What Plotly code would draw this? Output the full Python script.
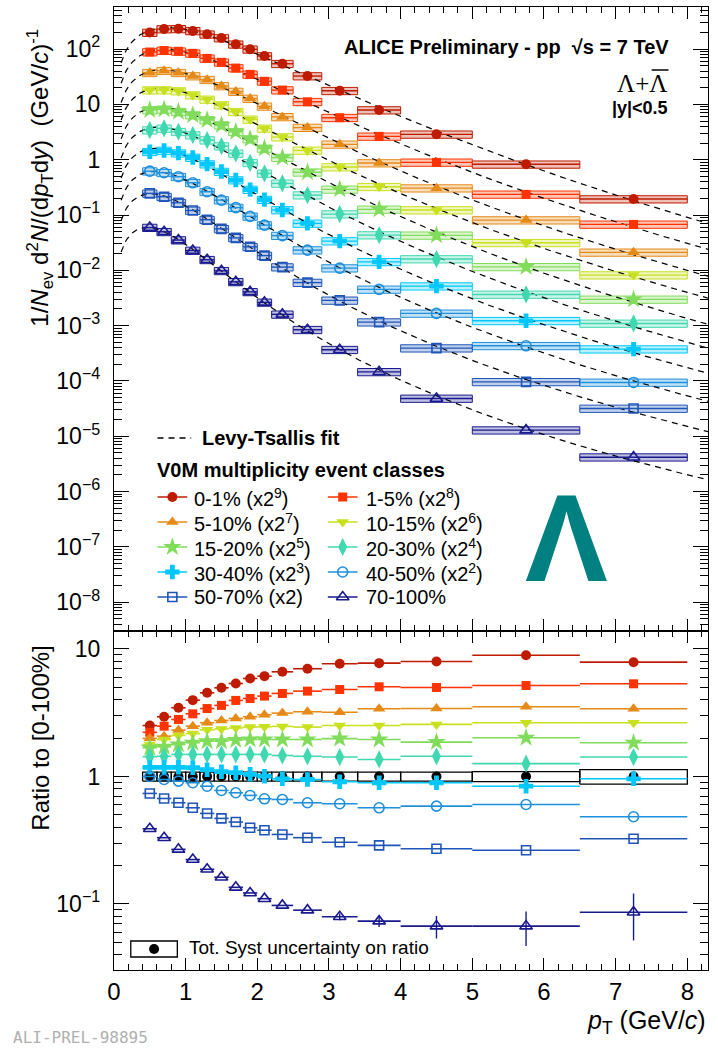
import numpy as np
import plotly.graph_objects as go

W, H = 718, 1050

# pT binning (GeV/c)
pt_low = [0.4, 0.6, 0.8, 1.0, 1.2, 1.4, 1.6, 1.8, 2.0, 2.2, 2.5, 2.9, 3.4, 4.0, 5.0, 6.5]
pt_high = [0.6, 0.8, 1.0, 1.2, 1.4, 1.6, 1.8, 2.0, 2.2, 2.5, 2.9, 3.4, 4.0, 5.0, 6.5, 8.0]
pt_center = [0.5, 0.7, 0.9, 1.1, 1.3, 1.5, 1.7, 1.9, 2.1, 2.35, 2.7, 3.15, 3.7, 4.5, 5.75, 7.25]

class_names = ["0-1%", "1-5%", "5-10%", "10-15%", "15-20%",
               "20-30%", "30-40%", "40-50%", "50-70%", "70-100%"]
scale_text = ["(x2<sup>9</sup>)", "(x2<sup>8</sup>)", "(x2<sup>7</sup>)", "(x2<sup>6</sup>)",
              "(x2<sup>5</sup>)", "(x2<sup>4</sup>)", "(x2<sup>3</sup>)", "(x2<sup>2</sup>)",
              "(x2)", ""]
scale_power = [9, 8, 7, 6, 5, 4, 3, 2, 1, 0]
class_colors = ["#BE1C00", "#FF3300", "#E68A17", "#C8E01E", "#80DC5A",
                "#40D8B0", "#00C8FF", "#1E90DC", "#1F55B8", "#1A1A90"]
class_symbols = ["circle", "square", "triangle-up", "triangle-down", "star",
                 "diamond-tall", "cross", "circle-open", "square-open", "triangle-up-open"]
class_sizes = [10, 9, 11, 11, 14, 13, 12, 10, 9, 11]

# 1/Nev d2N/(dpT dy), unscaled
yield_0_1 = [0.388, 0.449, 0.453, 0.416, 0.361, 0.309, 0.238, 0.193, 0.146, 0.106, 0.0635, 0.0344, 0.0154, 0.00561, 0.00161, 0.000379]
yield_1_5 = [0.345, 0.367, 0.356, 0.327, 0.265, 0.225, 0.177, 0.136, 0.102, 0.0708, 0.0435, 0.0224, 0.0103, 0.00349, 0.000922, 0.000264]
yield_5_10 = [0.291, 0.317, 0.291, 0.254, 0.218, 0.168, 0.133, 0.0995, 0.0719, 0.0464, 0.0297, 0.0148, 0.00679, 0.00239, 0.000632, 0.000165]
yield_10_15 = [0.283, 0.283, 0.272, 0.230, 0.192, 0.152, 0.115, 0.0836, 0.0575, 0.0401, 0.0230, 0.0115, 0.00506, 0.00192, 0.000491, 0.000128]
yield_15_20 = [0.247, 0.254, 0.230, 0.200, 0.163, 0.132, 0.100, 0.0738, 0.0500, 0.0341, 0.0185, 0.00908, 0.00395, 0.00134, 0.000361, 0.0000931]
yield_20_30 = [0.214, 0.230, 0.200, 0.174, 0.141, 0.110, 0.0812, 0.0549, 0.0353, 0.0233, 0.0143, 0.00649, 0.00271, 0.00100, 0.000229, 0.0000685]
yield_30_40 = [0.174, 0.183, 0.164, 0.137, 0.104, 0.0762, 0.0535, 0.0360, 0.0237, 0.0154, 0.00881, 0.00422, 0.00178, 0.000647, 0.000153, 0.0000470]
yield_40_50 = [0.155, 0.145, 0.123, 0.0955, 0.0658, 0.0465, 0.0340, 0.0236, 0.0164, 0.0106, 0.00580, 0.00274, 0.00113, 0.000416, 0.000108, 0.0000235]
yield_50_70 = [0.123, 0.107, 0.0832, 0.0603, 0.0411, 0.0281, 0.0193, 0.0133, 0.00923, 0.00572, 0.00300, 0.00143, 0.000578, 0.000196, 0.0000482, 0.0000159]
yield_70_100 = [0.0592, 0.0497, 0.0352, 0.0228, 0.0155, 0.00980, 0.00619, 0.00408, 0.00263, 0.00160, 0.000843, 0.000367, 0.000146, 0.0000483, 0.0000129, 0.00000419]
yields = [yield_0_1, yield_1_5, yield_5_10, yield_10_15, yield_15_20,
          yield_20_30, yield_30_40, yield_40_50, yield_50_70, yield_70_100]
spectra_syst_rel = 0.15

# ratio to the minimum-bias [0-100%] spectrum
ratio_0_1 = [2.51, 2.94, 3.46, 3.97, 4.53, 4.96, 5.36, 5.87, 6.12, 6.62, 7.00, 7.66, 7.74, 7.98, 8.94, 7.88]
ratio_1_5 = [2.22, 2.48, 2.80, 3.10, 3.41, 3.61, 3.95, 4.09, 4.27, 4.48, 4.67, 4.81, 5.05, 4.99, 5.17, 5.33]
ratio_5_10 = [1.99, 2.07, 2.31, 2.48, 2.64, 2.75, 2.85, 2.94, 3.05, 3.14, 3.22, 3.19, 3.40, 3.41, 3.52, 3.40]
ratio_10_15 = [1.78, 1.95, 2.10, 2.17, 2.32, 2.36, 2.40, 2.44, 2.45, 2.47, 2.44, 2.51, 2.51, 2.56, 2.64, 2.64]
ratio_15_20 = [1.68, 1.71, 1.78, 1.84, 1.89, 1.89, 1.93, 1.95, 1.95, 1.95, 1.95, 1.98, 1.95, 1.86, 2.01, 1.84]
ratio_20_30 = [1.43, 1.44, 1.49, 1.49, 1.49, 1.49, 1.49, 1.49, 1.49, 1.46, 1.44, 1.42, 1.36, 1.44, 1.26, 1.42]
ratio_30_40 = [1.18, 1.18, 1.18, 1.17, 1.13, 1.09, 1.07, 1.04, 1.005, 0.959, 0.947, 0.909, 0.893, 0.893, 0.839, 0.959]
ratio_40_50 = [1.0, 0.947, 0.919, 0.893, 0.839, 0.777, 0.745, 0.710, 0.668, 0.660, 0.622, 0.611, 0.568, 0.585, 0.603, 0.483]
ratio_50_70 = [0.736, 0.672, 0.622, 0.568, 0.513, 0.469, 0.439, 0.396, 0.379, 0.351, 0.331, 0.305, 0.288, 0.271, 0.264, 0.325]
ratio_70_100 = [0.389, 0.331, 0.268, 0.223, 0.187, 0.162, 0.135, 0.122, 0.110, 0.0974, 0.0894, 0.0794, 0.0733, 0.0670, 0.0670, 0.0862]
ratios = [ratio_0_1, ratio_1_5, ratio_5_10, ratio_10_15, ratio_15_20,
          ratio_20_30, ratio_30_40, ratio_40_50, ratio_50_70, ratio_70_100]
ratio_stat_70_100 = [0, 0, 0, 0, 0, 0, 0, 0, 0, 0, 0, 0.06, 0.10, 0.20, 0.30, 0.40]
ratio_mb = [1.0] * 16
ratio_syst_rel = [0.08] * 13 + [0.08, 0.09, 0.13]

M_LAMBDA = 1.115683
FONT = "Liberation Sans, Arial, Helvetica, sans-serif"

pc = np.array(pt_center)
plo = np.array(pt_low)
phi = np.array(pt_high)


def rgba(hexcol, a):
    h = hexcol.lstrip("#")
    return "rgba(%d,%d,%d,%.2f)" % (int(h[0:2], 16), int(h[2:4], 16), int(h[4:6], 16), a)


def box_path(lo_x, hi_x, lo_y, hi_y):
    xs, ys = [], []
    for a, b, c, d in zip(lo_x, hi_x, lo_y, hi_y):
        xs += [a, b, b, a, a, None]
        ys += [c, c, d, d, c, None]
    return xs, ys


def levy_shape(pt, T, n):
    mt = np.sqrt(pt ** 2 + M_LAMBDA ** 2)
    return pt * (1.0 + (mt - M_LAMBDA) / (n * T)) ** (-n)


# Levy-Tsallis fits (least squares in log space on a (T, n) grid)
T_grid = np.linspace(0.10, 0.60, 126)
n_grid = np.linspace(3.0, 60.0, 229)
TT, NN = np.meshgrid(T_grid, n_grid, indexing="ij")
log_shape = np.log(levy_shape(pc[None, None, :], TT[..., None], NN[..., None]))
pt_fit = np.linspace(0.1, 8.29, 400)

fig = go.Figure()

scaled = [np.array(y) * 2.0 ** p for y, p in zip(yields, scale_power)]

# systematic boxes
for i, ys in enumerate(scaled):
    bx, by = box_path(plo, phi, ys * (1 - spectra_syst_rel), ys * (1 + spectra_syst_rel))
    fig.add_trace(go.Scatter(x=bx, y=by, mode="lines", fill="toself",
                             fillcolor=rgba(class_colors[i], 0.28),
                             line=dict(color=class_colors[i], width=1),
                             hoverinfo="skip", showlegend=False, xaxis="x", yaxis="y"))

# fit curves
for ys in scaled:
    d = np.log(ys) - log_shape
    a = d.mean(axis=-1)
    res = ((d - a[..., None]) ** 2).sum(axis=-1)
    i, j = np.unravel_index(np.argmin(res), res.shape)
    fy = np.exp(a[i, j]) * levy_shape(pt_fit, T_grid[i], n_grid[j])
    fig.add_trace(go.Scatter(x=pt_fit, y=fy, mode="lines",
                             line=dict(color="black", width=1.2, dash="6px,5px"),
                             hoverinfo="skip", showlegend=False, xaxis="x", yaxis="y"))

# spectra points
for i, ys in enumerate(scaled):
    col = class_colors[i]
    opn = class_symbols[i].endswith("open")
    fig.add_trace(go.Scatter(
        x=pc, y=ys, mode="markers", showlegend=False, xaxis="x", yaxis="y",
        marker=dict(symbol=class_symbols[i], size=class_sizes[i], color=col,
                    line=dict(color=col, width=1.6 if opn else 0)),
        error_x=dict(type="data", symmetric=False, array=phi - pc, arrayminus=pc - plo,
                     color=col, thickness=1.4, width=0)))

# ratio panel: MB syst boxes and points
rm = np.array(ratio_mb)
rs = np.array(ratio_syst_rel)
bx, by = box_path(plo, phi, rm * (1 - rs), rm * (1 + rs))
fig.add_trace(go.Scatter(x=bx, y=by, mode="lines", line=dict(color="black", width=1.3),
                         hoverinfo="skip", showlegend=False, xaxis="x2", yaxis="y2"))
fig.add_trace(go.Scatter(x=pc, y=rm, mode="markers", showlegend=False, xaxis="x2", yaxis="y2",
                         marker=dict(symbol="circle", size=10, color="black")))

for i, rv in enumerate(ratios):
    col = class_colors[i]
    opn = class_symbols[i].endswith("open")
    rv = np.array(rv)
    ey = None
    if i == len(ratios) - 1:
        ey = dict(type="data", array=rv * np.array(ratio_stat_70_100), color=col,
                  thickness=1.4, width=0)
    fig.add_trace(go.Scatter(
        x=pc, y=rv, mode="markers", showlegend=False, xaxis="x2", yaxis="y2",
        marker=dict(symbol=class_symbols[i], size=class_sizes[i], color=col,
                    line=dict(color=col, width=1.6 if opn else 0)),
        error_x=dict(type="data", symmetric=False, array=phi - pc, arrayminus=pc - plo,
                     color=col, thickness=1.6, width=0),
        error_y=ey))

# legend glyphs on a pixel-coordinate overlay
leg_rows = [497, 522, 547, 572, 597]
leg_cols = [167, 339]
leg_text_x = [187, 361]
annotations = []


def px(x):
    return x / W


def py(y):
    return 1 - y / H


shapes = []
for i in range(10):
    c = i % 2
    r = i // 2
    xm, ym = leg_cols[c], leg_rows[r]
    shapes.append(dict(type="line", xref="paper", yref="paper", x0=px(xm - 15), x1=px(xm + 15),
                       y0=py(ym), y1=py(ym), line=dict(color=class_colors[i], width=1.5)))
    opn = class_symbols[i].endswith("open")
    fig.add_trace(go.Scatter(x=[xm], y=[ym], mode="markers", showlegend=False,
                             xaxis="x3", yaxis="y3", hoverinfo="skip",
                             marker=dict(symbol=class_symbols[i], size=class_sizes[i],
                                         color=class_colors[i],
                                         line=dict(color=class_colors[i], width=1.6 if opn else 0))))
    label = class_names[i] + (" " + scale_text[i] if scale_text[i] else "")
    annotations.append(dict(x=px(leg_text_x[c]), y=py(ym), xref="paper", yref="paper",
                            text=label, showarrow=False, xanchor="left", yanchor="middle",
                            font=dict(family=FONT, size=20, color="black")))

# fit legend sample
shapes.append(dict(type="line", xref="paper", yref="paper", x0=px(152), x1=px(186),
                   y0=py(438), y1=py(438), line=dict(color="black", width=1.5, dash="6px,5px")))
annotations.append(dict(x=px(195), y=py(438), xref="paper", yref="paper",
                        text="<b>Levy-Tsallis fit</b>", showarrow=False, xanchor="left",
                        yanchor="middle", font=dict(family=FONT, size=20, color="black")))
annotations.append(dict(x=px(149), y=py(470), xref="paper", yref="paper",
                        text="<b>V0M multiplicity event classes</b>", showarrow=False,
                        xanchor="left", yanchor="middle",
                        font=dict(family=FONT, size=20, color="black")))

# ratio-panel legend
shapes.append(dict(type="rect", xref="paper", yref="paper", x0=px(125), x1=px(172),
                   y0=py(941), y1=py(957), line=dict(color="black", width=1.3)))
fig.add_trace(go.Scatter(x=[148.5], y=[949], mode="markers", showlegend=False,
                         xaxis="x3", yaxis="y3", hoverinfo="skip",
                         marker=dict(symbol="circle", size=10, color="black")))
annotations.append(dict(x=px(182), y=py(948), xref="paper", yref="paper",
                        text="Tot. Syst uncertainty on ratio", showarrow=False,
                        xanchor="left", yanchor="middle",
                        font=dict(family=FONT, size=19, color="black")))

# headers
annotations.append(dict(x=px(671), y=py(47), xref="paper", yref="paper",
                        text="<b>ALICE Preliminary - pp  \u221As = 7 TeV</b>", showarrow=False,
                        xanchor="right", yanchor="middle",
                        font=dict(family=FONT, size=20, color="black")))
annotations.append(dict(x=px(669), y=py(84), xref="paper", yref="paper",
                        text="\u039B+\u039B", showarrow=False,
                        xanchor="right", yanchor="middle",
                        font=dict(family="Liberation Serif, Times New Roman, serif", size=25,
                                  color="black")))
# bar over the anti-Lambda
shapes.append(dict(type="line", xref="paper", yref="paper", x0=px(651), x1=px(668),
                   y0=py(70), y1=py(70), line=dict(color="black", width=1.5)))
annotations.append(dict(x=px(670), y=py(108), xref="paper", yref="paper",
                        text="<b>|y|&lt;0.5</b>", showarrow=False,
                        xanchor="right", yanchor="middle",
                        font=dict(family=FONT, size=18, color="black")))
annotations.append(dict(x=px(565), y=py(538), xref="paper", yref="paper",
                        text="<b>\u039B</b>", showarrow=False,
                        xanchor="center", yanchor="middle",
                        font=dict(family=FONT, size=124, color="#008080")))

# axis titles
annotations.append(dict(x=px(33), y=py(178), xref="paper", yref="paper",
                        text="1/<i>N</i><sub>ev</sub> d<sup>2</sup><i>N</i>/(d<i>p</i><sub>T</sub>d<i>y</i>)  (GeV/<i>c</i>)<sup>-1</sup>",
                        showarrow=False, textangle=-90, xanchor="center", yanchor="middle",
                        font=dict(family=FONT, size=24, color="black")))
annotations.append(dict(x=px(33), y=py(738), xref="paper", yref="paper",
                        text="Ratio to [0-100%]", showarrow=False, textangle=-90,
                        xanchor="center", yanchor="middle",
                        font=dict(family=FONT, size=24, color="black")))
annotations.append(dict(x=px(708), y=py(1022), xref="paper", yref="paper",
                        text="<i>p</i><sub>T</sub> (GeV/<i>c</i>)", showarrow=False,
                        xanchor="right", yanchor="middle",
                        font=dict(family=FONT, size=25, color="black")))
annotations.append(dict(x=px(4), y=py(1049), xref="paper", yref="paper",
                        text="ALI-PREL-98895", showarrow=False,
                        xanchor="left", yanchor="bottom",
                        font=dict(family="DejaVu Sans Mono, monospace", size=16, color="#b0b0b0")))


def log_minor(lo, hi):
    vals = []
    for e in range(lo, hi + 1):
        for m in range(2, 10):
            vals.append(m * 10.0 ** e)
    return vals


top_major = [10.0 ** e for e in range(-8, 3)]
top_text = ["10<sup>\u22128</sup>", "10<sup>\u22127</sup>", "10<sup>\u22126</sup>",
            "10<sup>\u22125</sup>", "10<sup>\u22124</sup>", "10<sup>\u22123</sup>",
            "10<sup>\u22122</sup>", "10<sup>\u22121</sup>", "1", "10", "10<sup>2</sup>"]
bot_major = [0.1, 1, 10]
bot_text = ["10<sup>\u22121</sup>", "1", "10"]

x_dom = [px(108), px(708)]
x_common = dict(range=[0, 8.29], domain=x_dom, showline=True, linecolor="black", linewidth=1.2,
                mirror="ticks", ticks="inside", ticklen=12, tickwidth=1.2, tickcolor="black",
                dtick=1, tick0=0, showgrid=False, zeroline=False,
                minor=dict(ticks="inside", ticklen=6, tickwidth=1, tickcolor="black",
                           dtick=0.2, tick0=0, showgrid=False))
y_common = dict(type="log", showline=True, linecolor="black", linewidth=1.2, mirror="ticks",
                ticks="inside", ticklen=15, tickwidth=1.2, tickcolor="black", showgrid=False,
                zeroline=False, tickmode="array", ticklabelstandoff=8,
                tickfont=dict(family=FONT, size=23, color="black"))

fig.update_layout(
    width=W, height=H, margin=dict(l=0, r=0, t=0, b=0),
    paper_bgcolor="white", plot_bgcolor="rgba(0,0,0,0)",
    showlegend=False,
    xaxis=dict(**x_common, anchor="y", showticklabels=False),
    yaxis=dict(**y_common, domain=[py(631), py(7)], range=[-8.52, 2.76], anchor="x",
               tickvals=top_major, ticktext=top_text,
               minor=dict(ticks="inside", ticklen=8, tickwidth=1, tickcolor="black",
                          tickvals=log_minor(-9, 2), showgrid=False)),
    xaxis2=dict(**x_common, anchor="y2", showticklabels=True,
                tickfont=dict(family=FONT, size=24, color="black")),
    yaxis2=dict(**y_common, domain=[py(970), py(631)], range=[-1.518, 1.141], anchor="x2",
                tickvals=bot_major, ticktext=bot_text,
                minor=dict(ticks="inside", ticklen=8, tickwidth=1, tickcolor="black",
                           tickvals=log_minor(-2, 1), showgrid=False)),
    xaxis3=dict(domain=[0, 1], range=[0, W], visible=False, anchor="y3", fixedrange=True),
    yaxis3=dict(domain=[0, 1], range=[H, 0], visible=False, anchor="x3", fixedrange=True),
    shapes=shapes,
    annotations=annotations,
)

fig.write_html("out.html")
